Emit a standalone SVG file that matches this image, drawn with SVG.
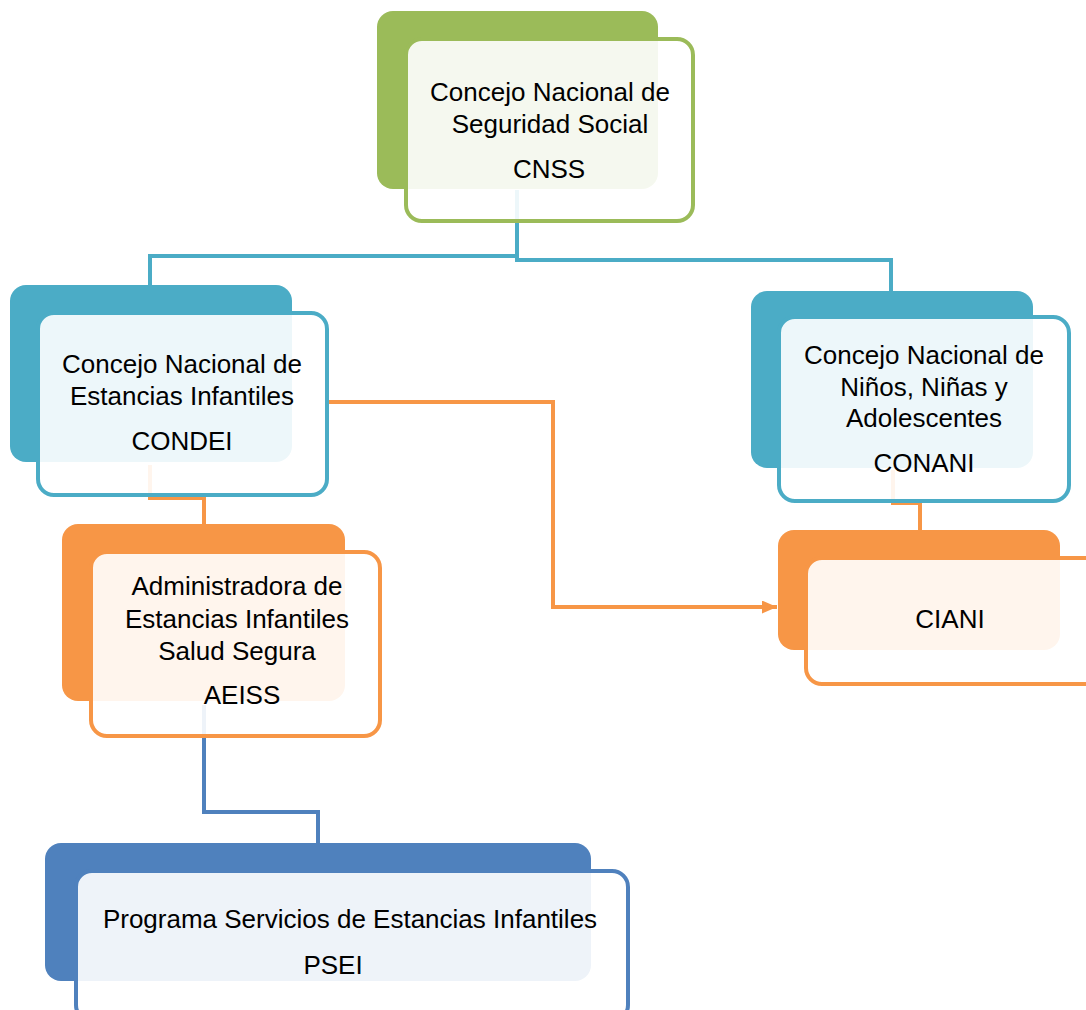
<svg xmlns="http://www.w3.org/2000/svg" width="1086" height="1010" viewBox="0 0 1086 1010">
<style>
text{font-family:"Liberation Sans",Arial,sans-serif;font-size:26px;fill:#000;text-anchor:middle}
.front{fill:#fff;fill-opacity:0.9;stroke-width:4}
.g .back{fill:#9BBB59}.g .front{stroke:#9BBB59}
.a .back{fill:#4BACC6}.a .front{stroke:#4BACC6}
.o .back{fill:#F79646}.o .front{stroke:#F79646}
.b .back{fill:#4F81BD}.b .front{stroke:#4F81BD}
.c{fill:none;stroke-width:4}
</style>
<defs>
<marker id="arr" markerWidth="15" markerHeight="13" refX="15" refY="6.5" orient="auto" markerUnits="userSpaceOnUse" viewBox="0 0 15 13"><path d="M0,0 L15,6.5 L0,13 z" fill="#F79646"/></marker>
</defs>
<rect width="1086" height="1010" fill="#fff"/>
<g id="connectors">
<path class="c" stroke="#4BACC6" d="M517,190 V256 H150 V286"/>
<path class="c" stroke="#4BACC6" d="M517,256 V260 H891 V292"/>
<path class="c" stroke="#F79646" d="M150,465 V498 H204 V525"/>
<path class="c" stroke="#F79646" d="M893,470 V503 H920 V531"/>
<path class="c" stroke="#4F81BD" d="M204,705 V812 H318 V843"/>
<path class="c" stroke="#F79646" stroke-width="3" d="M329,402 H553 V607 H777" marker-end="url(#arr)"/>
</g>
<g id="cnss" class="g">
<rect class="back" x="377" y="11" width="281" height="178" rx="16"/>
<rect class="front" x="406" y="39" width="287" height="182" rx="16"/>
<text x="550" y="101">Concejo Nacional de</text>
<text x="550" y="133">Seguridad Social</text>
<text x="549" y="178">CNSS</text>
</g>
<g id="condei" class="a">
<rect class="back" x="10" y="285" width="282" height="177" rx="16"/>
<rect class="front" x="38" y="313" width="289" height="182" rx="16"/>
<text x="182" y="373">Concejo Nacional de</text>
<text x="182" y="405">Estancias Infantiles</text>
<text x="182" y="450">CONDEI</text>
</g>
<g id="conani" class="a">
<rect class="back" x="751" y="291" width="282" height="177" rx="16"/>
<rect class="front" x="779" y="317" width="290" height="184" rx="16"/>
<text x="924" y="364">Concejo Nacional de</text>
<text x="924" y="396">Niños, Niñas y</text>
<text x="924" y="427">Adolescentes</text>
<text x="924" y="472">CONANI</text>
</g>
<g id="ciani" class="o">
<rect class="back" x="778" y="530" width="282" height="120" rx="16"/>
<rect class="front" x="806" y="558" width="300" height="126" rx="16"/>
<text x="950" y="628">CIANI</text>
</g>
<g id="aeiss" class="o">
<rect class="back" x="62" y="524" width="283" height="177" rx="16"/>
<rect class="front" x="91" y="552" width="289" height="184" rx="16"/>
<text x="237" y="595">Administradora de</text>
<text x="237" y="628">Estancias Infantiles</text>
<text x="237" y="660">Salud Segura</text>
<text x="242" y="704">AEISS</text>
</g>
<g id="psei" class="b">
<rect class="back" x="45" y="843" width="546" height="138" rx="16"/>
<rect class="front" x="76" y="871" width="552" height="150" rx="16"/>
<text x="350" y="928">Programa Servicios de Estancias Infantiles</text>
<text x="333" y="974">PSEI</text>
</g>
</svg>
